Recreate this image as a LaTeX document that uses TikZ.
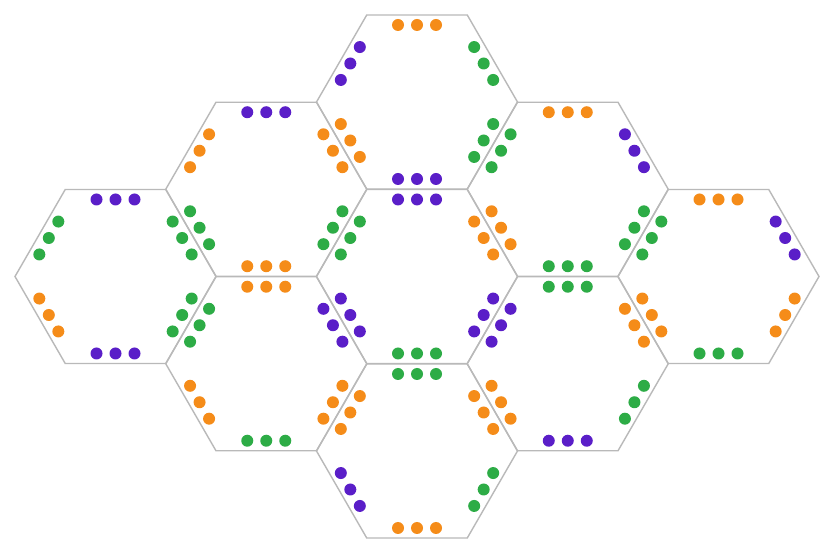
\documentclass[tikz,border=0pt]{standalone}
\definecolor{cP}{RGB}{90,30,200}
\definecolor{cO}{RGB}{245,140,25}
\definecolor{cG}{RGB}{45,172,70}
\definecolor{edgegray}{RGB}{185,185,185}
\tikzset{
  hexedge/.style={draw=edgegray, line width=1.4pt, line join=miter},
  dotmark/.style={fill=#1, draw=none},
}
% #1 centre coordinate name; #2..#7 colours of edges: top, upper-right, lower-right, bottom, lower-left, upper-left
\newcommand{\drawhexcell}[7]{%
  \begin{scope}[shift={(#1)}]
    \draw[hexedge] (0:100.5) -- (60:100.5) -- (120:100.5) -- (180:100.5) -- (240:100.5) -- (300:100.5) -- cycle;
    \foreach \ang/\col in {90/#2, 30/#3, -30/#4, -90/#5, -150/#6, 150/#7} {
      \foreach \t in {-19,0,19} {
        \fill[dotmark=\col] (\ang:77) ++(\ang+90:\t) circle (6);
      }
    }
  \end{scope}
}
\begin{document}
\begin{tikzpicture}[x=1pt,y=1pt]
  \useasboundingbox (0,0) rectangle (820,549);
  \fill[white] (0,0) rectangle (820,549);
  % hex centres (y measured upward)
  \coordinate (hexA) at (115.5,272.5);
  \coordinate (hexB) at (266.25,359.75);
  \coordinate (hexC) at (266.25,185.25);
  \coordinate (hexD) at (417,447);
  \coordinate (hexE) at (417,272.5);
  \coordinate (hexF) at (417,98);
  \coordinate (hexG) at (567.75,359.75);
  \coordinate (hexH) at (567.75,185.25);
  \coordinate (hexI) at (718.5,272.5);
  %              top  UR   LR   bottom LL  UL
  \drawhexcell{hexA}{cP}{cG}{cG}{cP}{cO}{cG}
  \drawhexcell{hexB}{cP}{cO}{cG}{cO}{cG}{cO}
  \drawhexcell{hexC}{cO}{cP}{cO}{cG}{cO}{cG}
  \drawhexcell{hexD}{cO}{cG}{cG}{cP}{cO}{cP}
  \drawhexcell{hexE}{cP}{cO}{cP}{cG}{cP}{cG}
  \drawhexcell{hexF}{cG}{cO}{cG}{cO}{cP}{cO}
  \drawhexcell{hexG}{cO}{cP}{cG}{cG}{cO}{cG}
  \drawhexcell{hexH}{cG}{cO}{cG}{cP}{cO}{cP}
  \drawhexcell{hexI}{cO}{cP}{cO}{cG}{cO}{cG}
\end{tikzpicture}
\end{document}
